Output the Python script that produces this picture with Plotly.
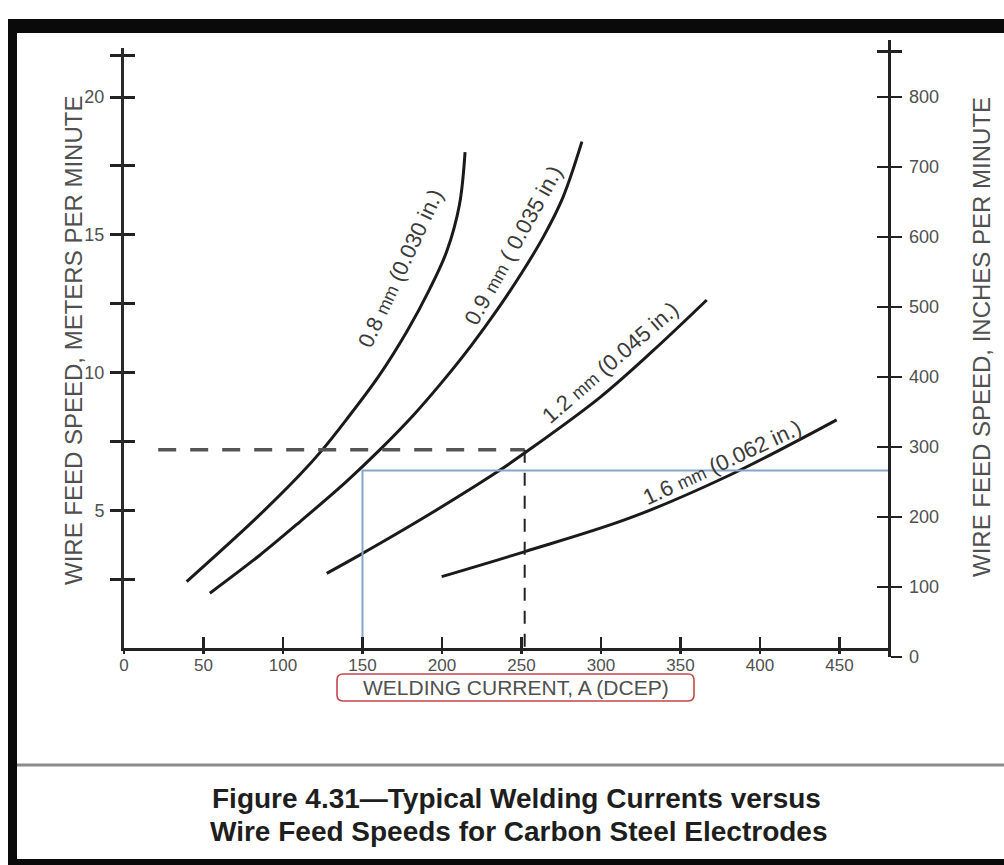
import plotly.graph_objects as go

# ---------------- data ----------------
current_08 = [39.4, 82, 110, 125, 140, 160, 178, 192, 203, 211, 214.5]
speed_08 = [2.41, 4.65, 6.25, 7.21, 8.3, 9.85, 11.5, 13.0, 14.4, 16.1, 18.0]

current_09 = [54, 85, 111, 140, 161, 182, 200, 218, 235, 250, 264, 276, 288]
speed_09 = [1.99, 3.35, 4.6, 6.05, 7.2, 8.45, 9.65, 10.95, 12.3, 13.6, 14.95, 16.35, 18.38]

current_12 = [127.5, 148.4, 190, 236.5, 252, 299.4, 332.9, 366.5]
speed_12 = [2.71, 3.38, 4.78, 6.46, 7.08, 9.1, 10.8, 12.63]

current_16 = [199.8, 252.2, 318.2, 381.1, 448.2]
speed_16 = [2.59, 3.50, 4.72, 6.28, 8.28]

labels = ["0.8 <span style='font-size:18px'>mm</span> (0.030 in.)",
          "0.9 <span style='font-size:18px'>mm</span> ( 0.035 in.)",
          "1.2 <span style='font-size:18px'>mm</span> (0.045 in.)",
          "1.6 <span style='font-size:18px'>mm</span> (0.062 in.)"]

# example reading (black dashed): 250 A -> 7.2 m/min on the 1.2 mm curve
dash_h_x = [21.5, 252]
dash_h_y = [7.2, 7.2]
dash_v_x = [252, 252]
dash_v_y = [7.2, 0]

# blue reference reading: 150 A -> 6.44 m/min
blue_x = [150, 150, 480.5]
blue_y = [0, 6.44, 6.44]

x_tickvals = [0, 50, 100, 150, 200, 250, 300, 350, 400, 450]
y_tickvals = [2.5, 5, 7.5, 10, 12.5, 15, 17.5, 20, 21.5]
y_ticktext = ["", "5", "", "10", "", "15", "", "20", ""]
y2_tickvals = [0, 100, 200, 300, 400, 500, 600, 700, 800, 865]
y2_ticktext = ["0", "100", "200", "300", "400", "500", "600", "700", "800", ""]

x_title = "WELDING CURRENT, A (DCEP)"
y_title = "WIRE FEED SPEED, METERS PER MINUTE"
y2_title = "WIRE FEED SPEED, INCHES PER MINUTE"
caption1 = "Figure 4.31\u2014Typical Welding Currents versus"
caption2 = "Wire Feed Speeds for Carbon Steel Electrodes"

# ---------------- layout geometry ----------------
W, H = 1004, 865
L, R, T, B = 124, 888, 40, 657  # plot area in pixels
PW, PH = R - L, B - T


def px(p):
    return (p - L) / PW


def py(p):
    return (B - p) / PH


FONT = "Liberation Sans, Arial, sans-serif"
TXT = "#505050"

fig = go.Figure()

curve_style = dict(color="#1a1a1a", width=3, shape="spline", smoothing=1.0)
for cx, cy in [(current_08, speed_08), (current_09, speed_09),
               (current_12, speed_12), (current_16, speed_16)]:
    fig.add_trace(go.Scatter(x=cx, y=cy, mode="lines", line=curve_style,
                             hoverinfo="skip", showlegend=False))

fig.add_trace(go.Scatter(x=blue_x, y=blue_y, mode="lines",
                         line=dict(color="#86a5c8", width=2),
                         hoverinfo="skip", showlegend=False))
fig.add_trace(go.Scatter(x=dash_h_x, y=dash_h_y, mode="lines",
                         line=dict(color="#555555", width=3.5, dash="18px,14px"),
                         hoverinfo="skip", showlegend=False))
fig.add_trace(go.Scatter(x=dash_v_x, y=dash_v_y, mode="lines",
                         line=dict(color="#222222", width=2, dash="13px,10px"),
                         hoverinfo="skip", showlegend=False))

# dummy traces so that every auxiliary axis is drawn
for xa, ya in [("x2", "y"), ("x", "y3"), ("x", "y2"), ("x", "y4")]:
    fig.add_trace(go.Scatter(x=[None], y=[None], xaxis=xa, yaxis=ya,
                             showlegend=False, hoverinfo="skip"))

y_dom = [py(648), py(48)]
y_range = [0, (648 - 48) / 27.55]
x_range = [0, PW / 1.59]
y2_range = [0, PH / 0.6998]

fig.update_layout(
    width=W, height=H,
    margin=dict(l=L, r=W - R, t=T, b=H - B, pad=0),
    paper_bgcolor="white", plot_bgcolor="rgba(0,0,0,0)",
    showlegend=False, hovermode=False,
    xaxis=dict(range=x_range, domain=[0, 1], anchor="y",
               showgrid=False, zeroline=False,
               showline=True, linecolor="#222", linewidth=2.5,
               tickmode="array", tickvals=x_tickvals,
               ticks="inside", ticklen=11, tickwidth=2.5, tickcolor="#222",
               tickfont=dict(family=FONT, size=17, color=TXT),
               ticklabelstandoff=0),
    xaxis2=dict(range=x_range, overlaying="x", anchor="y", side="bottom",
                showgrid=False, zeroline=False, showline=False,
                tickmode="array", tickvals=x_tickvals,
                ticks="outside", ticklen=5, tickwidth=2.5, tickcolor="#222",
                showticklabels=False),
    yaxis=dict(range=y_range, domain=y_dom, anchor="x", side="left",
               showgrid=False, zeroline=False,
               showline=True, linecolor="#2a2a2a", linewidth=3,
               tickmode="array", tickvals=y_tickvals, ticktext=y_ticktext,
               ticks="outside", ticklen=11, tickwidth=3, tickcolor="#222",
               tickfont=dict(family=FONT, size=18, color=TXT),
               ticklabelstandoff=2),
    yaxis3=dict(range=y_range, overlaying="y", anchor="x", side="left",
                showgrid=False, zeroline=False, showline=False,
                tickmode="array", tickvals=y_tickvals,
                ticks="inside", ticklen=11, tickwidth=3, tickcolor="#222",
                showticklabels=False),
    yaxis2=dict(range=y2_range, domain=[0, 1], anchor="x", side="right",
                showgrid=False, zeroline=False,
                showline=True, linecolor="#222", linewidth=2.5,
                tickmode="array", tickvals=y2_tickvals, ticktext=y2_ticktext,
                ticks="outside", ticklen=11, tickwidth=2.5, tickcolor="#222",
                tickfont=dict(family=FONT, size=18, color=TXT),
                ticklabelstandoff=4),
    yaxis4=dict(range=y2_range, overlaying="y2", anchor="x", side="right",
                showgrid=False, zeroline=False, showline=False,
                tickmode="array", tickvals=y2_tickvals,
                ticks="inside", ticklen=11, tickwidth=2.5, tickcolor="#222",
                showticklabels=False),
)

# ---------------- text ----------------
ann = []
# curve labels (centre in data units, angle)
label_pos = [((400 - L) / 1.59, (648 - 268) / 27.55, -65),
             ((513 - L) / 1.59, (648 - 245) / 27.55, -61),
             ((610 - L) / 1.59, (648 - 362) / 27.55, -41),
             ((722 - L) / 1.59, (648 - 462) / 27.55, -25)]
for text, (lx, ly, ang) in zip(labels, label_pos):
    ann.append(dict(x=lx, y=ly, xref="x", yref="y", text=text, showarrow=False,
                    textangle=ang, font=dict(family=FONT, size=22, color="#3a3a3a"),
                    xanchor="center", yanchor="middle"))

ann.append(dict(x=px(73), y=py(341), xref="paper", yref="paper", text=y_title,
                showarrow=False, textangle=-90,
                font=dict(family=FONT, size=24, color=TXT),
                xanchor="center", yanchor="middle"))
ann.append(dict(x=px(981), y=py(337), xref="paper", yref="paper", text=y2_title,
                showarrow=False, textangle=-90,
                font=dict(family=FONT, size=24, color=TXT),
                xanchor="center", yanchor="middle"))
ann.append(dict(x=px(515.5), y=py(687), xref="paper", yref="paper", text=x_title,
                showarrow=False, font=dict(family=FONT, size=21, color=TXT),
                xanchor="center", yanchor="middle"))
ann.append(dict(x=px(516), y=py(798), xref="paper", yref="paper", text="<b>" + caption1 + "</b>",
                showarrow=False, font=dict(family=FONT, size=28, color="#1e1e1e"),
                xanchor="center", yanchor="middle"))
ann.append(dict(x=px(518), y=py(832), xref="paper", yref="paper", text="<b>" + caption2 + "</b>",
                showarrow=False, font=dict(family=FONT, size=28, color="#1e1e1e"),
                xanchor="center", yanchor="middle"))
fig.update_layout(annotations=ann)

# ---------------- frame / decorations ----------------
def rounded_rect(x0, y0, x1, y1, r):
    # pixel coordinates -> paper path with rounded corners
    pts = []
    pts.append(f"M {px(x0 + r)},{py(y0)}")
    pts.append(f"L {px(x1 - r)},{py(y0)}")
    pts.append(f"Q {px(x1)},{py(y0)} {px(x1)},{py(y0 + r)}")
    pts.append(f"L {px(x1)},{py(y1 - r)}")
    pts.append(f"Q {px(x1)},{py(y1)} {px(x1 - r)},{py(y1)}")
    pts.append(f"L {px(x0 + r)},{py(y1)}")
    pts.append(f"Q {px(x0)},{py(y1)} {px(x0)},{py(y1 - r)}")
    pts.append(f"L {px(x0)},{py(y0 + r)}")
    pts.append(f"Q {px(x0)},{py(y0)} {px(x0 + r)},{py(y0)}")
    pts.append("Z")
    return " ".join(pts)


shapes = [
    # x-axis title box
    dict(type="path", xref="paper", yref="paper",
         path=rounded_rect(337, 674, 694, 701, 6),
         line=dict(color="#c4474b", width=1.6), fillcolor="rgba(0,0,0,0)"),
    # black frame
    dict(type="rect", xref="paper", yref="paper", x0=px(8), x1=px(1004),
         y0=py(33), y1=py(19), line=dict(width=0), fillcolor="#0a0a0a"),
    dict(type="rect", xref="paper", yref="paper", x0=px(8), x1=px(17),
         y0=py(865), y1=py(19), line=dict(width=0), fillcolor="#0a0a0a"),
    dict(type="rect", xref="paper", yref="paper", x0=px(8), x1=px(1004),
         y0=py(865), y1=py(859), line=dict(width=0), fillcolor="#0a0a0a"),
    # separator above caption
    dict(type="line", xref="paper", yref="paper", x0=px(17), x1=px(1004),
         y0=py(765), y1=py(765), line=dict(color="#8a8a8a", width=3)),
]
fig.update_layout(shapes=shapes)

fig.write_html("out.html", config={"displayModeBar": False, "staticPlot": True},
               post_script="document.body.style.margin='0';")
